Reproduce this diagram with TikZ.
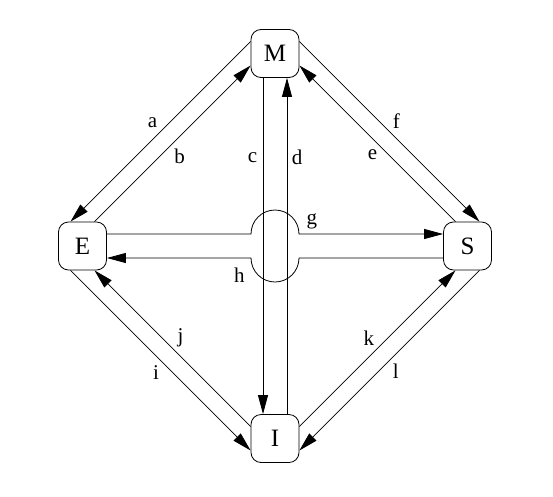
\documentclass[tikz,border=0pt]{standalone}
\usepackage{fontspec}
\setmainfont{Liberation Serif}
\usetikzlibrary{calc, positioning, arrows.meta}

\begin{document}
\begin{tikzpicture}[
    x=1pt, y=1pt, line width=0.8pt,
    kasten/.style={draw, rounded corners=10pt, minimum size=48pt, inner sep=0pt, font=\fontsize{25}{27}\selectfont},
    pfeil/.style={-{Triangle[length=19pt, width=10pt]}},
    marke/.style={font=\fontsize{21}{23}\selectfont, inner sep=3pt},
  ]
  \useasboundingbox (-275, -250) rectangle (278, 246);

  \coordinate (x) at (0, 0);

  \node[kasten] (m) at (0, 192.5) {M};
  \node[kasten] (e) at (-192.5, 0) {E};
  \node[kasten] (s) at (192.5, 0) {S};
  \node[kasten] (i) at (0, -192.5) {I};

  \draw[pfeil] ([yshift=12]m.west) -- node[marke, pos=.5, above left] (la) {a} ([xshift=-12]e.north);
  \draw[pfeil] ([xshift=12]e.north) -- node[marke, pos=.49, below right] (lb) {b} ([yshift=-12]m.west);
  \draw[pfeil] ([xshift=-12]m.south) -- node[marke, pos=.236, left=2.5pt] (lc) {c} ([xshift=-12]i.north);
  \draw[pfeil] ([xshift=12]i.north) -- node[marke, pos=.764, right=1.5pt] (ld) {d} ([xshift=12]m.south);
  \draw[pfeil] ([xshift=-12]s.north) -- node[marke, pos=.48, below left] (le) {e} ([yshift=-12]m.east);
  \draw[pfeil] ([yshift=12]m.east) -- node[marke, pos=.5, above right] (lf) {f} ([xshift=12]s.north);

  \draw[pfeil] ([yshift=12]e.east) -- ([shift={(-24,12)}]x) arc[start angle=180, end angle=0, radius=24pt]
    -- node[marke, pos=.09, above=1.5pt] (lg) {g} ([yshift=12]s.west);
  \draw[pfeil] ([yshift=-12]s.west) -- ([shift={(24,-12)}]x) arc[start angle=0, end angle=-180, radius=24pt]
    -- node[marke, pos=.08, below=6.5pt] (lh) {h} ([yshift=-12]e.east);

  \draw[pfeil] ([xshift=-12]e.south) -- node[marke, pos=.51, below left] (li) {i} ([yshift=-12]i.west);
  \draw[pfeil] ([yshift=12]i.west) -- node[marke, pos=.49, above right] (lj) {j} ([xshift=12]e.south);
  \draw[pfeil] ([yshift=12]i.east) -- node[marke, pos=.5, above left] (lk) {k} ([xshift=-12]s.south);
  \draw[pfeil] ([xshift=12]s.south) -- node[marke, pos=.5, below right] (ll) {l} ([yshift=-12]i.east);
\end{tikzpicture}
\end{document}
